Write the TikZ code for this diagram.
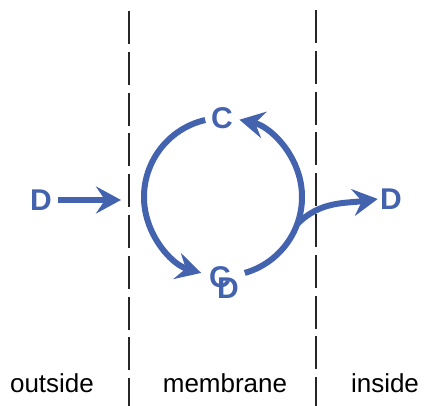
\documentclass[tikz,border=0pt]{standalone}
\usepackage{fontspec}
\setmainfont{Liberation Sans}
\usepackage{tikz}
\usetikzlibrary{arrows.meta, positioning}
\definecolor{cycleblue}{RGB}{68,99,174}

\begin{document}
\begin{tikzpicture}[
    x=0.5pt, y=0.5pt,
    region/.style={font=\fontsize{13}{15}\selectfont, text=black},
    carrier/.style={font=\fontsize{15}{17}\selectfont\bfseries, text=cycleblue, inner sep=1pt},
    boundary/.style={line width=0.7pt, dash pattern=on 16.5pt off 3.9pt, black!85},
    flow/.style={line width=3pt, draw=cycleblue, -{Stealth[length=12.5pt, width=13.5pt, inset=4.5pt]}},
]
\useasboundingbox (0,0) rectangle (424,406);

% === Membrane boundaries ===
\draw[boundary] (129,395) -- (129,0);
\draw[boundary] (316,396) -- (316,0);

% === Region labels ===
\node[region] (outside) at (52,23) {outside};
\node[region] (membrane) at (225,23) {membrane};
\node[region] (inside) at (385,23) {inside};

% === Carrier labels ===
\node[carrier] (Dout) at (41,206) {D};
\node[carrier] (Din) at (391,207) {D};
\node[carrier] (Ctop) at (222,288) {C};
\node[carrier] (Cbot) at (220,129) {C};
\node[carrier] (Dbot) at (228,118) {D};

\coordinate (hub) at (223,209);
\coordinate (membL) at (121,206);

% === Arrows ===
\draw[flow, shorten <=2pt] (Dout) -- (membL);
\draw[flow] ([shift={(103:79)}]hub) arc[start angle=103, end angle=254, radius=79];
\draw[flow] ([shift={(-74:79)}]hub) arc[start angle=-74, end angle=78, radius=79];
\draw[flow] ([shift={(-20:79)}]hub) to[out=45, in=188] (Din.west);

\end{tikzpicture}
\end{document}
